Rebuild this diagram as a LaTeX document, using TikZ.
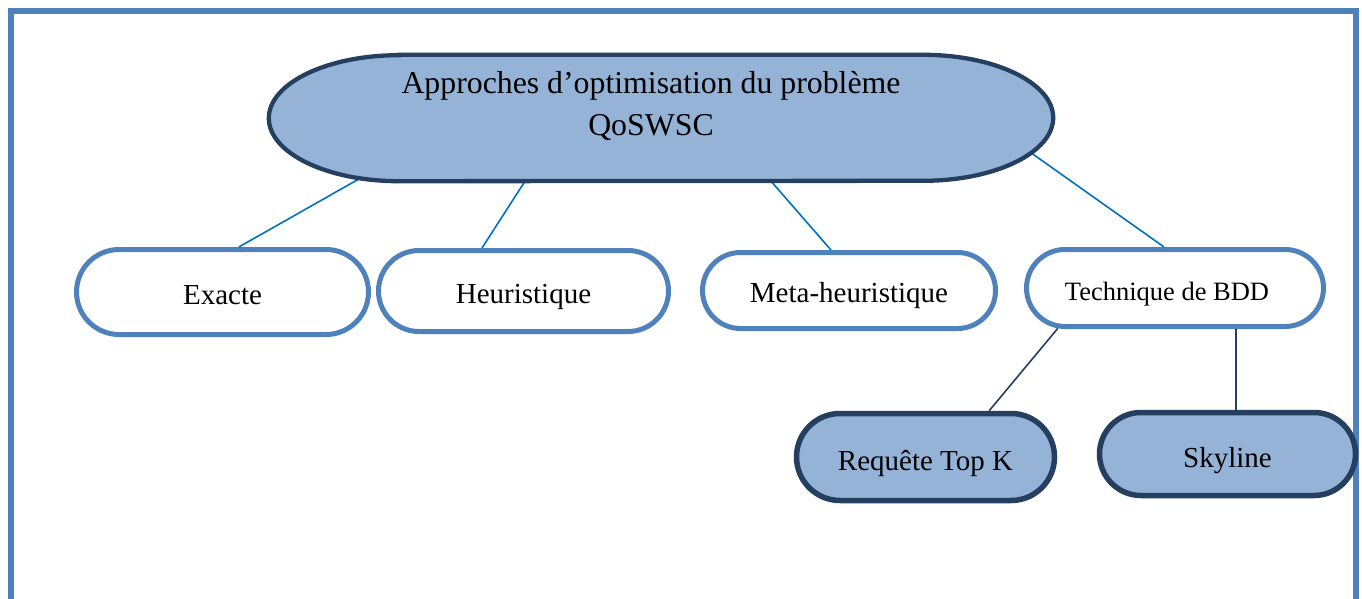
\documentclass[tikz,border=0pt]{standalone}
\usepackage{fontspec}
\setmainfont{Liberation Serif}
\usetikzlibrary{shapes.misc}
\definecolor{frameblue}{HTML}{4F81BD}
\definecolor{lightfill}{HTML}{95B3D7}
\definecolor{darkblue}{HTML}{243F60}
\definecolor{linkblue}{HTML}{0070C0}
\begin{document}
\begin{tikzpicture}[x=1pt,y=-1pt,
  childbox/.style={rounded rectangle, draw=frameblue, line width=5pt, fill=white, font=\fontsize{29}{35}\selectfont, inner sep=0pt, text height=26pt, text depth=2pt},
  leafbox/.style={rounded rectangle, draw=darkblue, line width=5.5pt, fill=lightfill, font=\fontsize{29}{35}\selectfont, inner sep=0pt, text height=27pt, text depth=1pt},
  link/.style={draw=linkblue, line width=1.6pt},
  sublink/.style={draw=darkblue, line width=1.6pt},
  topshape/.style={draw=darkblue, fill=lightfill, line width=4.3pt}]
\useasboundingbox (0,0) rectangle (1362,599);
\draw[frameblue, line width=6pt] (10.5,11) rectangle (1356,602);

\node[draw=none, minimum width=784pt, minimum height=126pt, inner sep=0pt] (top) at (661,118) {};

\node[childbox, minimum width=292pt, minimum height=85pt] (exacte) at (222.5,292) {Exacte};
\node[childbox, minimum width=290pt, minimum height=81pt] (heur) at (523.5,291) {Heuristique};
\node[childbox, minimum width=293pt, minimum height=76pt] (meta) at (849,290.5) {Meta-heuristique};
\node[childbox, minimum width=297pt, minimum height=77pt, font=\fontsize{26.5}{32}\selectfont] (tech) at (1175,288) {Technique de BDD\hspace*{16pt}};
\node[leafbox, minimum width=258pt, minimum height=87pt] (topk) at (925.5,457) {Requête Top K};
\node[leafbox, minimum width=256pt, minimum height=83pt] (sky) at (1227.5,454) {Skyline};

\draw[link] ([xshift=95pt,yshift=5pt]top.south west) -- (exacte.70);
\draw[link] ([xshift=-136pt]top.south) -- (heur.134);
\draw[link] ([xshift=110pt]top.south) -- (meta.114);
\draw[link] ([xshift=-23pt,yshift=29pt]top.south east) -- (tech.105);
\draw[sublink] (tech.199.3) -- (topk.36);
\draw[sublink] (tech.326.4) -- (tech.326.4 |- sky.north);

\draw[topshape] ([xshift=130pt]top.north west) -- ([xshift=-130pt]top.north east)
  arc[start angle=90,end angle=-90,x radius=130pt,y radius=63pt]
  -- ([xshift=130pt]top.south west)
  arc[start angle=270,end angle=90,x radius=130pt,y radius=63pt] -- cycle;
\node[font=\fontsize{31.8}{42}\selectfont, align=center, inner sep=0pt] (toptext) at (651,106) {Approches d’optimisation du problème\\QoSWSC};
\end{tikzpicture}
\end{document}
